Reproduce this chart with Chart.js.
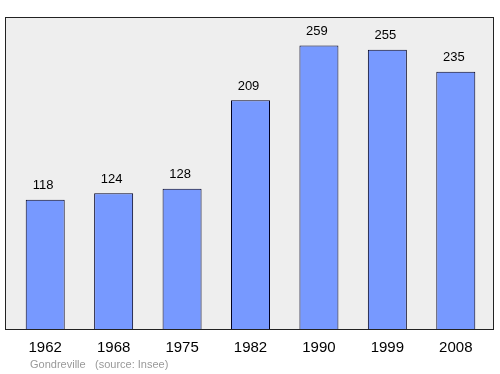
<!DOCTYPE html>
<html>
<head>
<meta charset="utf-8">
<script src="https://cdn.jsdelivr.net/npm/chart.js@4/dist/chart.umd.min.js"></script>
<style>
  html, body { margin: 0; padding: 0; background: #ffffff; }
  #wrap { width: 500px; height: 374px; }
</style>
</head>
<body>
<div id="wrap"><canvas id="chart"></canvas></div>
<script>
// population data
const years = ['1962', '1968', '1975', '1982', '1990', '1999', '2008'];
const population = [118, 124, 128, 209, 259, 255, 235];
const townName = 'Gondreville';
const sourceNote = '(source: Insee)';

const FONT = '"Liberation Sans", Arial, sans-serif';

// grey panel behind bars
const panelPlugin = {
    id: 'panel',
    beforeDraw(chart) {
        const ctx = chart.ctx;
        ctx.save();
        ctx.fillStyle = '#eeeeee';
        ctx.fillRect(5, 17, 489, 312);
        ctx.strokeStyle = '#222222';
        ctx.lineWidth = 1;
        ctx.strokeRect(5.5, 17.5, 488, 312);
        ctx.restore();
    }
};

// values over bars + footer
const labelsPlugin = {
    id: 'valueLabels',
    afterDatasetsDraw(chart) {
        const ctx = chart.ctx;
        const meta = chart.getDatasetMeta(0);
        ctx.save();
        ctx.font = '13px ' + FONT;
        ctx.fillStyle = '#000000';
        ctx.textAlign = 'center';
        ctx.textBaseline = 'middle';
        meta.data.forEach((bar, i) => {
            ctx.fillText(String(population[i]), bar.x - 2, bar.y - 14);
        });
        ctx.font = '11px ' + FONT;
        ctx.fillStyle = '#999999';
        ctx.textAlign = 'left';
        ctx.fillText(townName, 30, 365);
        ctx.fillText(sourceNote, 95, 365);
        ctx.restore();
    }
};

new Chart(document.getElementById('chart'), {
    type: 'bar',
    data: {
        labels: years,
        datasets: [{
            data: population,
            backgroundColor: '#7799ff',
            borderColor: '#000022',
            borderWidth: 1,
            barPercentage: 0.57,
            categoryPercentage: 1.0
        }]
    },
    options: {
        responsive: true,
        maintainAspectRatio: false,
        animation: false,
        layout: { padding: { left: 11, right: 10, top: 17, bottom: 0 } },
        plugins: { legend: { display: false }, tooltip: { enabled: false } },
        scales: {
            x: {
                grid: { display: false, drawTicks: false },
                border: { display: false },
                ticks: { color: '#000000', font: { size: 15, family: FONT }, padding: 10 },
                afterFit(scale) { scale.height = 45; }
            },
            y: { display: false, min: 0, max: 285 }
        }
    },
    plugins: [panelPlugin, labelsPlugin]
});
</script>
</body>
</html>
